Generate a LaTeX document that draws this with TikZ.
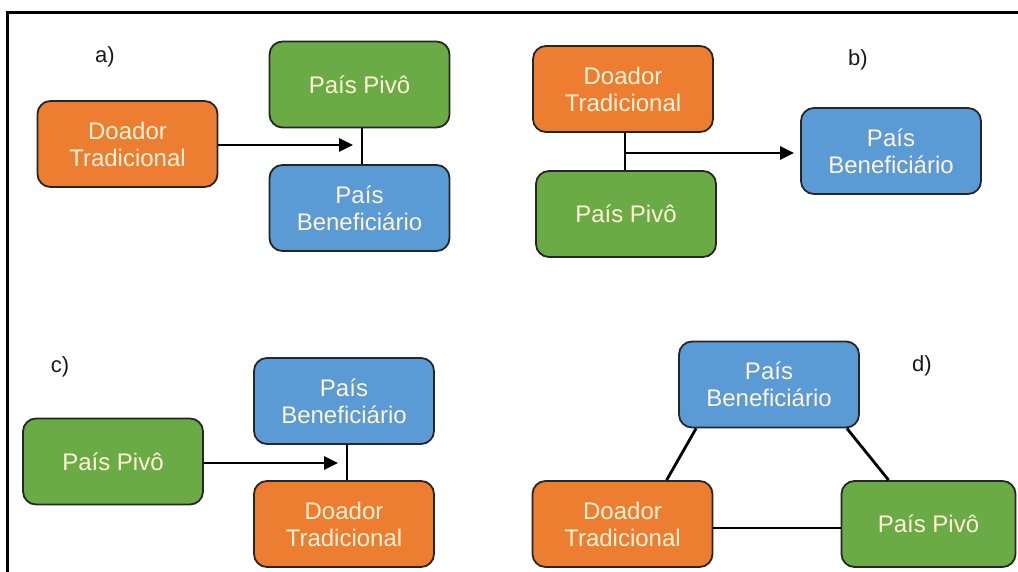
\documentclass[tikz,border=0pt]{standalone}
\usepackage{fontspec}
\setmainfont{Liberation Sans}
\usetikzlibrary{arrows.meta}
\definecolor{orng}{HTML}{ED7D31}
\definecolor{grn}{HTML}{6AAB45}
\definecolor{blu}{HTML}{5B9BD5}
\definecolor{txtc}{HTML}{FFF3D8}
\definecolor{edgec}{HTML}{262626}
\tikzset{
  box/.style={draw=edgec, line width=1.8pt, rounded corners=13pt, minimum width=180pt, minimum height=86pt,
    inner sep=0pt, align=center, text=txtc, font=\fontsize{24}{27}\selectfont},
  orbox/.style={box, fill=orng},
  grbox/.style={box, fill=grn},
  blbox/.style={box, fill=blu},
  lbl/.style={font=\fontsize{22}{24}\selectfont, text=black!90},
  conn/.style={line width=2.8pt, black},
  arr/.style={conn, -{Triangle[length=14pt,width=13pt]}},
}
\begin{document}
\begin{tikzpicture}[x=1pt,y=-1pt]
\useasboundingbox (0,0) rectangle (1018,572);
\fill[white] (0,0) rectangle (1018,572);
% frame
\coordinate (fTL) at (7.5,12.5);
\coordinate (fTR) at (1018,12.5);
\coordinate (fBL) at (7.5,572);
\draw[line width=2.6pt] (fTR) -- (fTL) -- (fBL);

% a)
\node[lbl] (la) at (105,57) {a)};
\node[orbox] (aD) at (127.5,144) {Doador\\Tradicional};
\node[grbox] (aP) at (359.5,84.5) {País Pivô};
\node[blbox] (aB) at (359.5,208) {País\\Beneficiário};
\coordinate (aJ) at (362,145);
\draw[conn] (aP.south -| aJ) -- (aB.north -| aJ);
\draw[arr] (aD.east |- aJ) -- ([xshift=-9pt]aJ);

% b)
\node[lbl] (lb) at (858,60) {b)};
\node[orbox] (bD) at (623,89) {Doador\\Tradicional};
\node[grbox] (bP) at (626,214) {País Pivô};
\node[blbox] (bB) at (891,151) {País\\Beneficiário};
\coordinate (bJ) at (625,153);
\draw[conn] (bD.south -| bJ) -- (bP.north -| bJ);
\draw[arr] (bJ) -- ([xshift=-6pt]bB.west |- bJ);

% c)
\node[lbl] (lc) at (60,367) {c)};
\node[grbox] (cP) at (113,461.5) {País Pivô};
\node[blbox] (cB) at (344,401) {País\\Beneficiário};
\node[orbox] (cD) at (344,524) {Doador\\Tradicional};
\coordinate (cJ) at (347,463);
\draw[conn] (cB.south -| cJ) -- (cD.north -| cJ);
\draw[arr] (cP.east |- cJ) -- ([xshift=-9pt]cJ);

% d)
\node[lbl] (ld) at (922,366) {d)};
\node[blbox] (dB) at (769,384.5) {País\\Beneficiário};
\node[orbox] (dD) at (622.5,524) {Doador\\Tradicional};
\node[grbox, minimum width=174pt] (dP) at (928.5,524) {País Pivô};
\draw[conn] ([xshift=18pt]dB.south west) -- ([xshift=135pt]dD.north west);
\draw[conn] ([xshift=-13pt]dB.south east) -- ([xshift=48pt]dP.north west);
\draw[conn] ([yshift=-4pt]dD.east) -- ([yshift=-4pt]dP.west);
\end{tikzpicture}
\end{document}
